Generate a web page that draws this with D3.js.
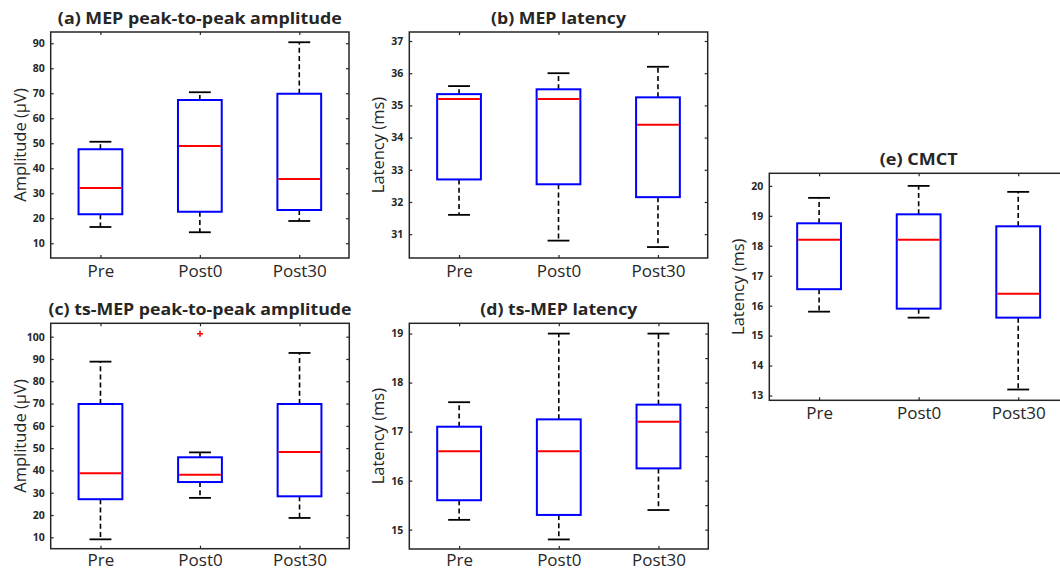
<!DOCTYPE html>
<html><head><meta charset="utf-8">
<script src="https://cdn.jsdelivr.net/npm/d3@7"></script>
<style>body{margin:0;background:#fff}svg{display:block}</style>
</head><body><svg id="c" width="1060" height="571"></svg>
<script>
const categories = ["Pre", "Post0", "Post30"];
// each entry: [lower whisker, Q1, median, Q3, upper whisker]
const mepAmplitude = [[16.5, 21.6, 32.1, 47.6, 50.6], [14.4, 22.6, 48.9, 67.3, 70.4], [18.9, 23.3, 35.7, 69.8, 90.4]];
const mepLatency = [[31.6, 32.7, 35.2, 35.35, 35.6], [30.8, 32.55, 35.2, 35.5, 36.0], [30.6, 32.15, 34.4, 35.25, 36.2]];
const tsAmplitude = [[9.1, 27.1, 38.7, 69.8, 88.8], [27.7, 34.8, 38.1, 45.9, 48.1], [18.7, 28.4, 48.3, 69.8, 92.7]];
const tsAmplitudeOutliers = [[], [101.3], []];
const tsLatency = [[15.2, 15.6, 16.6, 17.1, 17.6], [14.8, 15.3, 16.6, 17.25, 19.0], [15.4, 16.25, 17.2, 17.55, 19.0]];
const cmct = [[15.8, 16.55, 18.2, 18.75, 19.6], [15.6, 15.9, 18.2, 19.05, 20.0], [13.2, 15.6, 16.4, 18.65, 19.8]];

const ticksA = [10, 20, 30, 40, 50, 60, 70, 80, 90];
const ticksB = [31, 32, 33, 34, 35, 36, 37];
const ticksC = [10, 20, 30, 40, 50, 60, 70, 80, 90, 100];
const ticksD = [15, 16, 17, 18, 19];
const ticksDright = [15, 15.5, 16, 16.5, 17, 17.5, 18, 18.5, 19];
const ticksE = [13, 14, 15, 16, 17, 18, 19, 20];

const titles = ["(a) MEP peak-to-peak amplitude", "(b) MEP latency", "(c) ts-MEP peak-to-peak amplitude", "(d) ts-MEP latency", "(e) CMCT"];
const yLabels = ["Amplitude (\u03BCV)", "Latency (ms)", "Amplitude (\u03BCV)", "Latency (ms)", "Latency (ms)"];

const panels = [
  {stats: mepAmplitude, outliers: null, ticks: ticksA, rticks: ticksA, dom: [4.1, 94.5], L: 50.7, R: 349, T: 32, B: 258, titleW: 284, xPad: 6.5},
  {stats: mepLatency, outliers: null, ticks: ticksB, rticks: ticksB, dom: [30.26, 37.28], L: 409.3, R: 707.7, T: 32, B: 258, titleW: 135, xPad: 6.5},
  {stats: tsAmplitude, outliers: tsAmplitudeOutliers, ticks: ticksC, rticks: ticksC, dom: [4.9, 106], L: 50.7, R: 349.3, T: 323.3, B: 548.7, titleW: 303, xPad: 5},
  {stats: tsLatency, outliers: null, ticks: ticksD, rticks: ticksDright, dom: [14.605, 19.21], L: 409.3, R: 708.3, T: 323.3, B: 549, titleW: 157, xPad: 4.5},
  {stats: cmct, outliers: null, ticks: ticksE, rticks: ticksE, dom: [12.84, 20.42], L: 769.3, R: 1068, T: 173.3, B: 400.3, titleW: 78, xPad: 6.5}
];

const svg = d3.select("#c");
const FONT = "'Open Sans', 'Noto Sans', sans-serif";
const AX = "#262626";

panels.forEach((p, i) => {
  const x = d3.scaleLinear().domain([0.5, 3.5]).range([p.L, p.R]);
  const y = d3.scaleLinear().domain(p.dom).range([p.B, p.T]);
  const g = svg.append("g");

  const boxW = 0.44, capW = 0.22;
  p.stats.forEach((s, k) => {
    const c = k + 1;
    const [lo, q1, med, q3, hi] = s;
    g.append("line").attr("x1", x(c)).attr("x2", x(c)).attr("y1", y(q3)).attr("y2", y(hi))
      .attr("stroke", "#000").attr("stroke-width", 1.6).attr("stroke-dasharray", "5,3.2");
    g.append("line").attr("x1", x(c)).attr("x2", x(c)).attr("y1", y(q1)).attr("y2", y(lo))
      .attr("stroke", "#000").attr("stroke-width", 1.6).attr("stroke-dasharray", "5,3.2");
    [lo, hi].forEach(v => {
      g.append("line").attr("x1", x(c - capW / 2)).attr("x2", x(c + capW / 2)).attr("y1", y(v)).attr("y2", y(v))
        .attr("stroke", "#000").attr("stroke-width", 1.8);
    });
    g.append("rect").attr("x", x(c - boxW / 2)).attr("width", x(c + boxW / 2) - x(c - boxW / 2))
      .attr("y", y(q3)).attr("height", y(q1) - y(q3))
      .attr("fill", "none").attr("stroke", "#0000ff").attr("stroke-width", 2);
    g.append("line").attr("x1", x(c - boxW / 2) + 1).attr("x2", x(c + boxW / 2) - 1).attr("y1", y(med)).attr("y2", y(med))
      .attr("stroke", "#ff0000").attr("stroke-width", 2);
    if (p.outliers) {
      p.outliers[k].forEach(v => {
        g.append("path").attr("d", `M${x(c) - 3},${y(v)}h6M${x(c)},${y(v) - 3}v6`)
          .attr("stroke", "#ff0000").attr("stroke-width", 1.6);
      });
    }
  });

  g.append("rect").attr("x", p.L).attr("y", p.T).attr("width", p.R - p.L).attr("height", p.B - p.T)
    .attr("fill", "none").attr("stroke", AX).attr("stroke-width", 1.5);

  const style = (sel) => {
    sel.select(".domain").remove();
    sel.selectAll(".tick line").attr("stroke", AX).attr("stroke-width", 1.2);
  };
  const left = g.append("g").attr("transform", `translate(${p.L},0)`)
    .call(d3.axisLeft(y).tickValues(p.ticks).tickFormat(d3.format("d")).tickSizeInner(-3).tickSizeOuter(0).tickPadding(6));
  style(left);
  left.selectAll("text").attr("font-family", FONT).attr("font-weight", "bold").attr("font-size", 10.5).attr("fill", AX);
  const right = g.append("g").attr("transform", `translate(${p.R},0)`)
    .call(d3.axisRight(y).tickValues(p.rticks).tickSizeInner(-3).tickSizeOuter(0).tickFormat(""));
  style(right);
  const bottom = g.append("g").attr("transform", `translate(0,${p.B})`)
    .call(d3.axisBottom(x).tickValues([1, 2, 3]).tickFormat(d => categories[d - 1]).tickSizeInner(-3).tickSizeOuter(0).tickPadding(p.xPad));
  style(bottom);
  bottom.selectAll("text").attr("font-family", FONT).attr("font-size", 17).attr("fill", AX);
  const top = g.append("g").attr("transform", `translate(0,${p.T})`)
    .call(d3.axisTop(x).tickValues([1, 2, 3]).tickSizeInner(-3).tickSizeOuter(0).tickFormat(""));
  style(top);

  g.append("text").attr("x", (p.L + p.R) / 2).attr("y", p.T - 8)
    .attr("text-anchor", "middle").attr("font-family", FONT).attr("font-weight", "bold")
    .attr("font-size", 16.5).attr("fill", AX)
    .attr("textLength", p.titleW).attr("lengthAdjust", "spacingAndGlyphs")
    .text(titles[i]);
  g.append("text").attr("transform", `translate(${p.L - 25},${(p.T + p.B) / 2}) rotate(-90)`)
    .attr("text-anchor", "middle").attr("font-family", FONT).attr("font-size", 16.5).attr("fill", AX)
    .text(yLabels[i]);
});
</script></body></html>
